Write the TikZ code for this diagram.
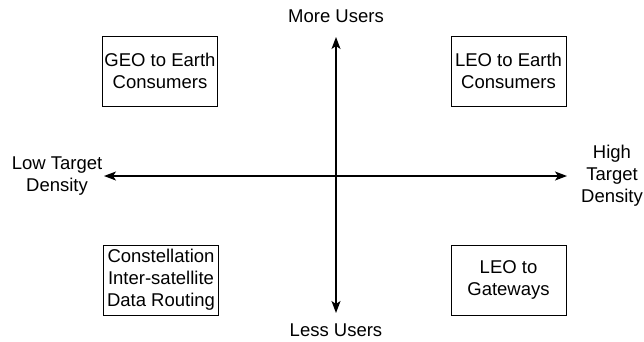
\documentclass[tikz,border=0pt]{standalone}
\usepackage{fontspec}
\setmainfont{Liberation Sans}
\usetikzlibrary{arrows.meta}
\begin{document}
\begin{tikzpicture}[x=1pt,y=-1pt,
  every node/.style={font=\fontsize{18.5}{22}\selectfont, align=center, inner sep=0pt},
  quadbox/.style={draw, line width=1pt, minimum width=115pt, minimum height=70pt},
  axis/.style={line width=1.3pt, {Stealth[length=12pt,width=9pt,inset=3pt]}-{Stealth[length=12pt,width=9pt,inset=3pt]}}]
  \useasboundingbox (0,0) rectangle (644,341);
  % quadrant boxes
  \node[quadbox] (geo) at (160,71) {GEO to Earth\\Consumers};
  \node[quadbox] (leo) at (508.5,71) {LEO to Earth\\Consumers};
  \node[quadbox] (isl) at (161,280) {Constellation\\Inter-satellite\\Data Routing};
  \node[quadbox] (gw) at (508.5,280) {LEO to\\Gateways};
  % axis labels
  \node (more) at (336,16) {More Users};
  \node (less) at (336,330) {Less Users};
  \node (low) at (57,176) {Low Target\\Density};
  \node (high) at (612,176) {High\\Target\\Density};
  % axis end points
  \coordinate (top) at (336,37);
  \coordinate (bot) at (336,313);
  \coordinate (lft) at (104,176);
  \coordinate (rgt) at (567,176);
  \draw[axis] (top) -- (bot);
  \draw[axis] (lft) -- (rgt);
\end{tikzpicture}
\end{document}
